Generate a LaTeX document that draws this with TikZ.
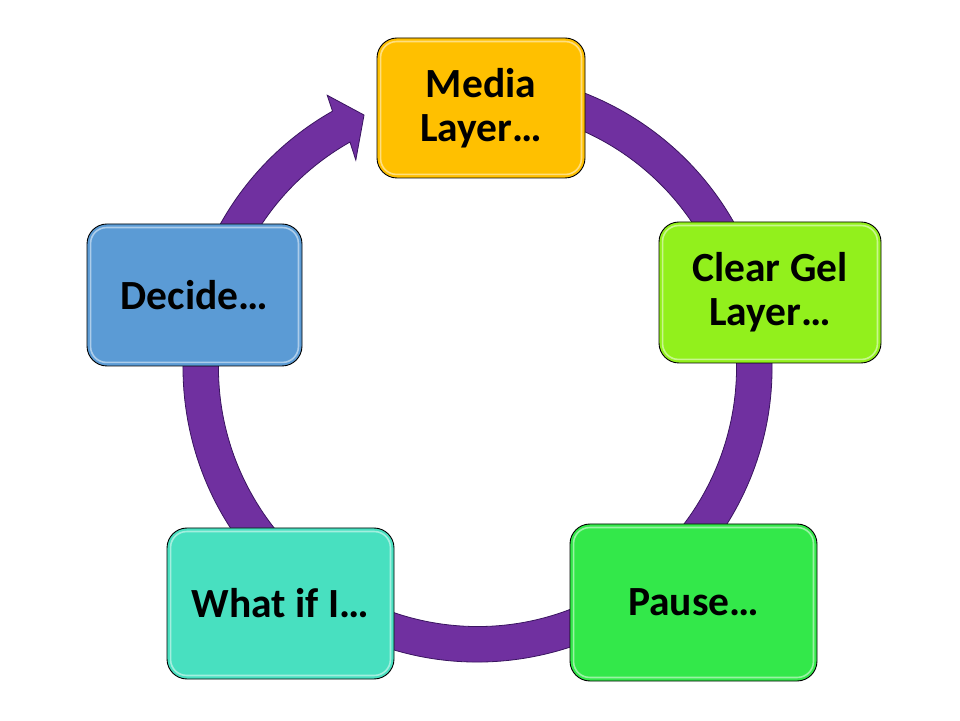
\documentclass[tikz,border=0pt]{standalone}
\usepackage{fontspec}
\setmainfont{Carlito}
\definecolor{ringc}{HTML}{7030A0}
\definecolor{ringd}{HTML}{3A1560}
\definecolor{cmedia}{HTML}{FFC000}
\definecolor{cgel}{HTML}{92F01C}
\definecolor{cpause}{HTML}{33E84A}
\definecolor{cwhat}{HTML}{48E0C0}
\definecolor{cdecide}{HTML}{5B9BD5}
\begin{document}
\begin{tikzpicture}[x=1pt,y=1pt,
  cyclebox/.style={draw=black, line width=0.9pt, rounded corners=20pt, inner sep=0pt, align=center,
    font=\bfseries\fontsize{41.5}{44}\selectfont},
  gloss/.style={draw=white, draw opacity=0.5, line width=1.6pt, rounded corners=16pt}
]
\useasboundingbox (0,0) rectangle (960,720);
\fill[white] (0,0) rectangle (960,720);
% ring with arrowhead
\begin{scope}[shift={(477.5,352.5)}]
\filldraw[fill=ringc, draw=ringd, line width=0.8pt]
  (100:294.5) arc[start angle=100, end angle=-240.5, radius=294.5]
  -- (-241.1:311) -- (-245.8:276.8) -- (-239.6:240.5) -- (-240.5:259)
  arc[start angle=-240.5, end angle=100, radius=259] -- cycle;
\end{scope}
% boxes
\node[cyclebox, fill=cmedia, minimum width=208pt, minimum height=140pt] (media) at (481,612) {Media\\Layer…};
\node[cyclebox, fill=cgel, minimum width=222pt, minimum height=141pt] (gel) at (770,427.5) {Clear Gel\\Layer…};
\node[cyclebox, fill=cpause, minimum width=247pt, minimum height=157pt] (pause) at (693.5,117.5) {Pause…};
\node[cyclebox, fill=cwhat, minimum width=227pt, minimum height=151pt] (whatif) at (280.5,116.5) {What if I…};
\node[cyclebox, fill=cdecide, minimum width=215pt, minimum height=142pt] (decide) at (194.5,425) {Decide…};
% gloss highlights
\foreach \n in {media,gel,pause,whatif,decide}{
  \draw[gloss] ([shift={(4pt,4pt)}]\n.south west) rectangle ([shift={(-4pt,-4pt)}]\n.north east);
}
\end{tikzpicture}
\end{document}
